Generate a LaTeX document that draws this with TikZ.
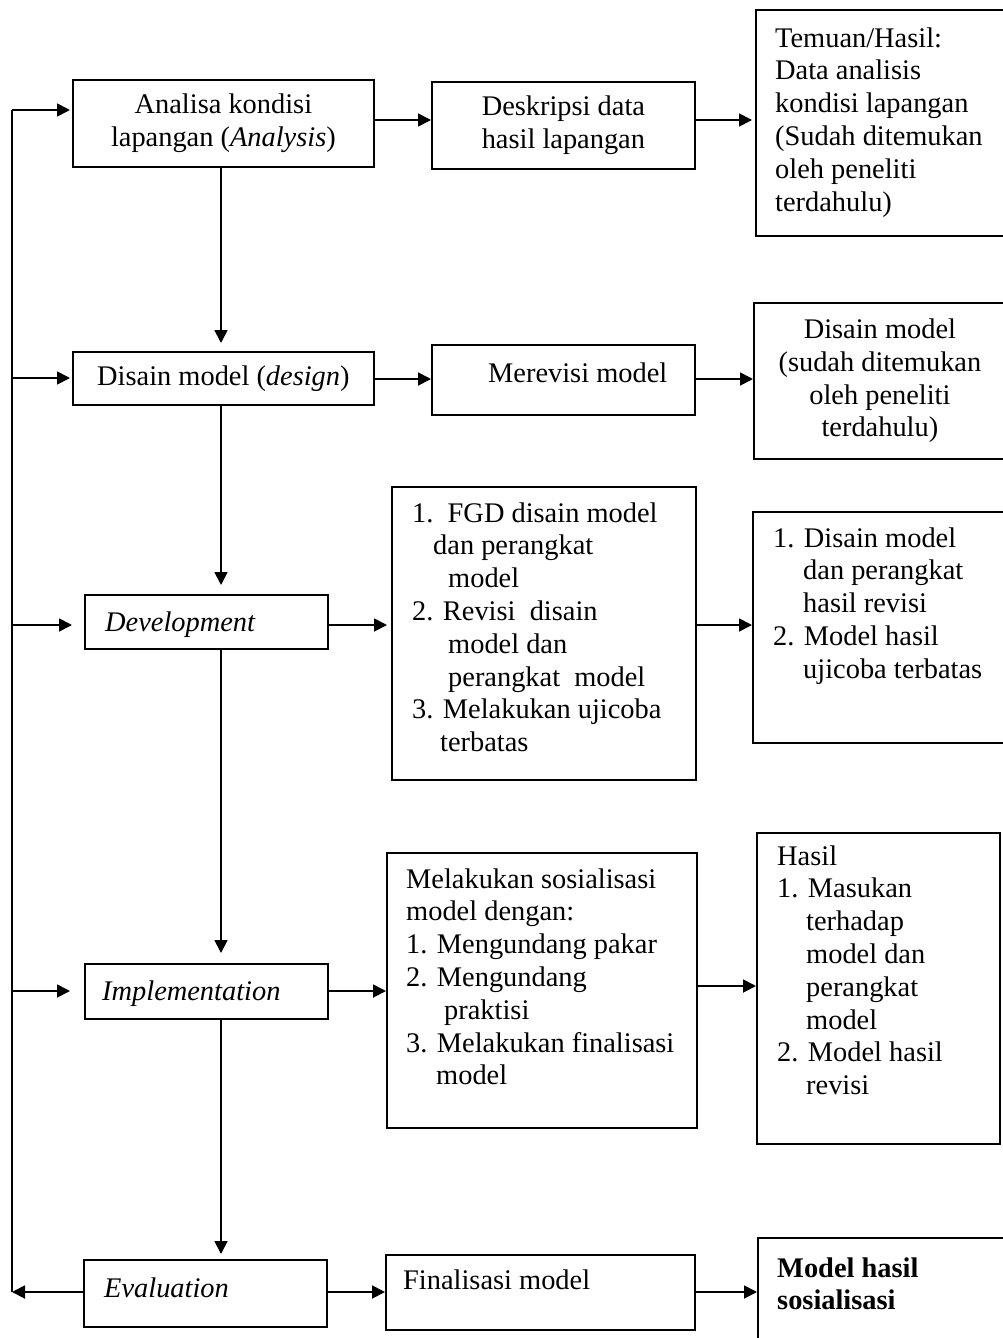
\documentclass[tikz,border=0pt]{standalone}
\usepackage{fontspec}
\setmainfont{Liberation Serif}
\usetikzlibrary{arrows.meta}
\begin{document}
\begin{tikzpicture}[x=1pt,y=-1pt,
  every node/.style={font=\fontsize{28.4}{32.8}\selectfont},
  box/.style={draw, line width=1.8pt, inner sep=0pt, anchor=north west, align=center},
  lab/.style={anchor=north west, inner sep=0pt, align=left},
  arr/.style={line width=1.8pt, -{Triangle[length=13pt,width=13pt]}},
  ln/.style={line width=1.8pt}]
\useasboundingbox (0,0) rectangle (1003,1338);

% boxes
\node[box, minimum width=301pt, minimum height=87pt] (A) at (72,79) {Analisa kondisi\\lapangan (\textit{Analysis})};
\node[box, minimum width=263pt, minimum height=87pt] (B) at (431,81) {Deskripsi data\\hasil lapangan};
\node[box, minimum width=262pt, minimum height=226pt] (C) at (755,9) {};
\node[box, minimum width=301pt, minimum height=53pt] (D) at (72,351) {Disain model (\textit{design})};
\node[box, minimum width=263pt, minimum height=70pt] (E) at (431,344) {};
\node[box, minimum width=252pt, minimum height=156pt] (F) at (753,302) {Disain model\\(sudah ditemukan\\oleh peneliti\\terdahulu)};
\node[box, minimum width=243pt, minimum height=54pt] (Dev) at (84,594) {};
\node[box, minimum width=304pt, minimum height=293pt] (G) at (391,486) {};
\node[box, minimum width=262pt, minimum height=231pt] (H) at (752,511) {};
\node[box, minimum width=243pt, minimum height=55pt] (Impl) at (84,963) {};
\node[box, minimum width=310pt, minimum height=275pt] (I) at (386,852) {};
\node[box, minimum width=243pt, minimum height=311pt] (J) at (756,832) {};
\node[box, minimum width=243pt, minimum height=67pt] (Eval) at (83,1259) {};
\node[box, minimum width=309pt, minimum height=75pt] (K) at (385,1254) {};
\node[box, minimum width=262pt, minimum height=130pt] (L) at (757,1237) {};

% texts inside boxes
\node[lab] (Ct) at ([xshift=20pt,yshift=-15pt]C.north west) {\strut Temuan/Hasil:\\Data analisis\\kondisi lapangan\\(Sudah ditemukan\\oleh peneliti\\terdahulu)};
\node[lab] (Et) at ([xshift=57pt,yshift=-15pt]E.north west) {\strut Merevisi model};
\node[lab] (Devt) at ([xshift=21pt,yshift=-14pt]Dev.north west) {\strut\textit{Development}};
\node[lab] (Gt) at ([xshift=21pt,yshift=-13pt]G.north west) {\strut 1.~~FGD disain model\\\hspace*{21pt}dan perangkat\\\hspace*{36pt}model\\2. Revisi~~disain\\\hspace*{36pt}model dan\\\hspace*{36pt}perangkat~~model\\3. Melakukan ujicoba\\\hspace*{28pt}terbatas};
\node[lab] (Ht) at ([xshift=21pt,yshift=-13pt]H.north west) {\strut 1. Disain model\\\hspace*{30pt}dan perangkat\\\hspace*{30pt}hasil revisi\\2. Model hasil\\\hspace*{30pt}ujicoba terbatas};
\node[lab] (Implt) at ([xshift=18pt,yshift=-14pt]Impl.north west) {\strut\textit{Implementation}};
\node[lab] (It) at ([xshift=20pt,yshift=-13pt]I.north west) {\strut Melakukan sosialisasi\\model dengan:\\1. Mengundang pakar\\2. Mengundang\\\hspace*{38pt}praktisi\\3. Melakukan finalisasi\\\hspace*{30pt}model};
\node[lab] (Jt) at ([xshift=21pt,yshift=-10pt]J.north west) {\strut Hasil\\1. Masukan\\\hspace*{29pt}terhadap\\\hspace*{29pt}model dan\\\hspace*{29pt}perangkat\\\hspace*{29pt}model\\2. Model hasil\\\hspace*{29pt}revisi};
\node[lab] (Evalt) at ([xshift=21pt,yshift=-15pt]Eval.north west) {\strut\textit{Evaluation}};
\node[lab] (Kt) at ([xshift=18pt,yshift=-12pt]K.north west) {\strut Finalisasi model};
\node[lab] (Lt) at ([xshift=20pt,yshift=-17pt]L.north west) {\strut\textbf{Model hasil}\\\textbf{sosialisasi}};

% coordinates
\coordinate (s1) at (12,110);
\coordinate (s2) at (12,378);
\coordinate (s3) at (12,625);
\coordinate (s4) at (12,991);
\coordinate (s5) at (12,1292);
\coordinate (v) at (221,0);
\coordinate (r1) at (0,120);
\coordinate (r2) at (0,379);
\coordinate (r3) at (0,625);
\coordinate (r4a) at (0,991);
\coordinate (r4b) at (0,986);
\coordinate (r5) at (0,1292);

% feedback spine
\draw[ln] (s1) -- (s5);
\draw[arr, shorten >=2pt] (s1) -- (A.west |- s1);
\draw[arr, shorten >=2pt] (s2) -- (D.west |- s2);
\draw[arr, shorten >=12pt] (s3) -- (Dev.west |- s3);
\draw[arr, shorten >=14pt] (s4) -- (Impl.west |- s4);
\draw[arr] (Eval.west |- s5) -- (s5);

% main vertical flow
\draw[arr, shorten >=8pt] (A.south -| v) -- (D.north -| v);
\draw[arr, shorten >=9pt] (D.south -| v) -- (Dev.north -| v);
\draw[arr, shorten >=10pt] (Dev.south -| v) -- (Impl.north -| v);
\draw[arr, shorten >=5pt] (Impl.south -| v) -- (Eval.north -| v);

% horizontal flows
\draw[arr] (A.east |- r1) -- (B.west |- r1);
\draw[arr, shorten >=3pt] (B.east |- r1) -- (C.west |- r1);
\draw[arr] (D.east |- r2) -- (E.west |- r2);
\draw[arr] (E.east |- r2) -- (F.west |- r2);
\draw[arr, shorten >=4pt] (Dev.east |- r3) -- (G.west |- r3);
\draw[arr] (G.east |- r3) -- (H.west |- r3);
\draw[arr] (Impl.east |- r4a) -- (I.west |- r4a);
\draw[arr] (I.east |- r4b) -- (J.west |- r4b);
\draw[arr] (Eval.east |- r5) -- (K.west |- r5);
\draw[arr] (K.east |- r5) -- (L.west |- r5);
\end{tikzpicture}
\end{document}
